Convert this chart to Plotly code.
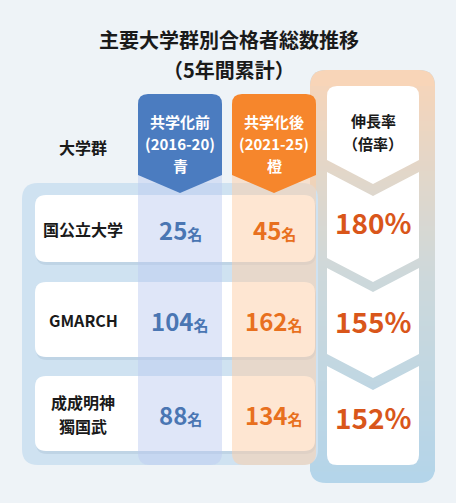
import plotly.graph_objects as go

# ---------------- data ----------------
title_lines = ["主要大学群別合格者総数推移", "（5年間累計）"]
groups = [["国公立大学"], ["GMARCH"], ["成成明神", "獨国武"]]
before = [25, 104, 88]
after = [45, 162, 134]
rates = [180, 155, 152]
unit = "名"
group_header = "大学群"
before_header = ["共学化前", "(2016-20)", "青"]
after_header = ["共学化後", "(2021-25)", "橙"]
rate_header = ["伸長率", "（倍率）"]

# ---------------- layout constants ----------------
W, H = 456, 503
FONT = "Noto Sans CJK JP"
row_top = [195, 282, 376]
row_bot = [262, 357, 451]
col_b = (138, 222)
col_a = (232, 316)
col_r = (327, 419)
BLUE = "#4b7cc0"
ORANGE = "#f6862c"
BLUE_TXT = "#4a76b3"
ORANGE_TXT = "#e8701e"
RATE_TXT = "#d9561a"

shapes = []


def rrect(x0, y0, x1, y1, r):
    tl, tr, br, bl = r
    return (f"M {x0+tl},{y0} L {x1-tr},{y0} Q {x1},{y0} {x1},{y0+tr} "
            f"L {x1},{y1-br} Q {x1},{y1} {x1-br},{y1} L {x0+bl},{y1} "
            f"Q {x0},{y1} {x0},{y1-bl} L {x0},{y0+tl} Q {x0},{y0} {x0+tl},{y0} Z")


def add_path(path, fill):
    shapes.append(dict(type="path", path=path, xref="x", yref="y",
                       fillcolor=fill, line=dict(width=0), layer="above"))


# right outer gradient column
rx0, rx1, ry0, ry1 = 310, 435, 70, 483
stops = [(ry0, (248, 213, 184)), (275, (206, 217, 219)), (ry1, (180, 213, 234))]


def col_at(y):
    for (ya, ca), (yb, cb) in zip(stops[:-1], stops[1:]):
        if ya <= y <= yb:
            t = (y - ya) / (yb - ya)
            return tuple(int(ca[i] + (cb[i] - ca[i]) * t) for i in range(3))
    return stops[-1][1]


add_path(rrect(rx0, ry0, rx1, ry1, (16, 16, 16, 16)), "rgb(%d,%d,%d)" % stops[-1][1])
add_path(rrect(rx0, ry0, rx1, ry0 + 30, (16, 16, 0, 0)), "rgb(%d,%d,%d)" % stops[0][1])
y = ry0 + 16
while y < ry1 - 16:
    c = col_at(y + 2.5)
    add_path(f"M {rx0},{y} L {rx1},{y} L {rx1},{y+5.6} L {rx0},{y+5.6} Z", "rgb(%d,%d,%d)" % c)
    y += 5

# left blue panel
add_path(rrect(22, 183, 318, 465, (16, 16, 16, 16)), "#cfe2f1")

# row cards (shadow + white)
for t, b in zip(row_top, row_bot):
    add_path(rrect(36, t + 3, 316, b + 3, (11, 11, 11, 11)), "rgba(120,150,180,0.18)")
    add_path(rrect(35, t, 315, b, (11, 11, 11, 11)), "#ffffff")

# translucent columns
add_path(rrect(col_b[0], 150, col_b[1], 465, (0, 0, 12, 12)), "rgba(188,203,240,0.48)")
add_path(rrect(col_a[0], 150, col_a[1], 465, (0, 0, 12, 12)), "rgba(253,208,168,0.52)")

# column headers (pentagon arrows)
for (x0, x1), fill in [(col_b, BLUE), (col_a, ORANGE)]:
    xm = (x0 + x1) / 2
    add_path(f"M {x0+10},94 L {x1-10},94 Q {x1},94 {x1},104 L {x1},175 L {xm},193 "
             f"L {x0},175 L {x0},104 Q {x0},94 {x0+10},94 Z", fill)

# right column chevrons
x0, x1 = col_r
xm = (x0 + x1) / 2
d = 24
add_path(f"M {x0+10},86 L {x1-10},86 Q {x1},86 {x1},96 L {x1},160 L {xm},{160+d} "
         f"L {x0},160 L {x0},96 Q {x0},86 {x0+10},86 Z", "#ffffff")
chev = [(172, 258), (268, 354), (366, 465)]
for i, (t, b) in enumerate(chev):
    if i < len(chev) - 1:
        p = (f"M {x0},{t} L {xm},{t+d} L {x1},{t} L {x1},{b} L {xm},{b+d} L {x0},{b} Z")
    else:
        p = (f"M {x0},{t} L {xm},{t+d} L {x1},{t} L {x1},{b-10} Q {x1},{b} {x1-10},{b} "
             f"L {x0+10},{b} Q {x0},{b} {x0},{b-10} Z")
    add_path(p, "#ffffff")

# ---------------- annotations ----------------
ann = []


def text(x, y, s, size, color="#1a1a1a", bold=True):
    ann.append(dict(x=x, y=y, xref="x", yref="y", text=f"<b>{s}</b>" if bold else s,
                    showarrow=False, xanchor="center", yanchor="middle",
                    font=dict(family=FONT, size=size, color=color)))


text(229, 39, title_lines[0], 20)
text(229, 69, title_lines[1], 20)
text(83, 147, group_header, 16)
for (xa, xb), lines in [(col_b, before_header), (col_a, after_header)]:
    xm_ = (xa + xb) / 2
    for yy, s in zip([121, 143, 165], lines):
        text(xm_, yy, s, 15, "#ffffff")
for yy, s in zip([120, 143], rate_header):
    text(373, yy, s, 15)

centers = [(t + b) / 2 for t, b in zip(row_top, row_bot)]
rate_y = [222, 321, 417]
for i, g in enumerate(groups):
    cy = centers[i]
    n = len(g)
    for k, line in enumerate(g):
        text(83, cy + (k - (n - 1) / 2) * 24, line, 16)
    text((col_b[0] + col_b[1]) / 2, cy + 1,
         f"{before[i]}<span style='font-size:15px'>{unit}</span>", 24, BLUE_TXT)
    text((col_a[0] + col_a[1]) / 2, cy + 1,
         f"{after[i]}<span style='font-size:15px'>{unit}</span>", 24, ORANGE_TXT)
    text(373, rate_y[i], f"{rates[i]}%", 28, RATE_TXT)

fig = go.Figure()
fig.add_trace(go.Scatter(x=[0, W], y=[0, H], mode="markers",
                         marker=dict(opacity=0), hoverinfo="skip", showlegend=False))
fig.update_layout(
    width=W, height=H, margin=dict(l=0, r=0, t=0, b=0),
    paper_bgcolor="#eef3f7", plot_bgcolor="#eef3f7",
    xaxis=dict(range=[0, W], visible=False, fixedrange=True),
    yaxis=dict(range=[H, 0], visible=False, fixedrange=True),
    shapes=shapes, annotations=ann, showlegend=False,
)
fig.write_html("out.html", config={"displayModeBar": False},
               post_script="document.body.style.margin='0';document.body.style.overflow='hidden';")
